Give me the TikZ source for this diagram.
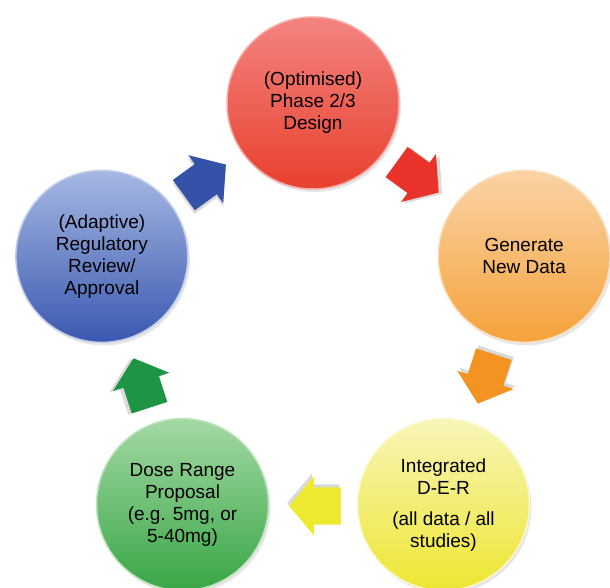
\documentclass[tikz,border=0pt]{standalone}
\usepackage{fontspec}
\setmainfont{Liberation Sans}
\usetikzlibrary{shapes.arrows,shadows}

% ball colours, light top and full bottom
\definecolor{redtop}{HTML}{F38480}
\definecolor{redbot}{HTML}{E8402E}
\definecolor{orangetop}{HTML}{FAD3A6}
\definecolor{orangebot}{HTML}{F5A23A}
\definecolor{yellowtop}{HTML}{F8F5B8}
\definecolor{yellowbot}{HTML}{EDE632}
\definecolor{greentop}{HTML}{A4D9A4}
\definecolor{greenbot}{HTML}{38A646}
\definecolor{bluetop}{HTML}{A6B8E2}
\definecolor{bluebot}{HTML}{3A58B0}

% arrow colours
\definecolor{arrowred}{HTML}{E8322A}
\definecolor{arroworange}{HTML}{F39322}
\definecolor{arrowyellow}{HTML}{EEEA30}
\definecolor{arrowgreen}{HTML}{1E9445}
\definecolor{arrowblue}{HTML}{3452A8}

\begin{document}
\begin{tikzpicture}[x=1pt, y=1pt,
    phase/.style={circle, minimum size=172pt, inner sep=0pt, align=center,
        font=\fontsize{19}{22}\selectfont, line width=1.5pt,
        top color=#1top, bottom color=#1bot, draw=#1top!70!white,
        drop shadow={shadow xshift=2pt, shadow yshift=-3pt, opacity=0.2}},
    turn/.style={single arrow, minimum height=52pt, text height=37pt,
        text depth=0pt, inner sep=0pt, single arrow head extend=11pt,
        single arrow tip angle=100, fill=#1}
]
    % page size, centre of the cycle at the origin
    \useasboundingbox (-313,-263) rectangle (297,325);

    % draw the five stages
    \node[phase=red] (design) at (90:222)
        {(Optimised)\\Phase 2/3\\Design};
    \node[phase=orange] (newdata) at (18:222)
        {Generate\\New Data};
    \node[phase=yellow] (der) at (-54:222)
        {Integrated\\D-E-R\\[9pt](all data / all\\studies)};
    \node[phase=green] (dose) at (-126:222)
        {Dose Range\\Proposal\\(e.g. 5mg, or\\5-40mg)};
    \node[phase=blue] (review) at (162:222)
        {(Adaptive)\\Regulatory\\Review/\\Approval};

    % draw block arrows between stages, clockwise
    % (shadow shift turned back so it always falls down-right)
    \foreach \a/\c/\n in {126/arrowblue/review, 54/arrowred/design,
                          -18/arroworange/newdata, -90/arrowyellow/der,
                          -162/arrowgreen/dose} {
        \pgfmathsetmacro\dir{\a-90}
        \pgfmathsetmacro\sx{2*cos(\dir)-3*sin(\dir)}
        \pgfmathsetmacro\sy{-2*sin(\dir)-3*cos(\dir)}
        \node[turn=\c, rotate=\dir,
              drop shadow={shadow xshift=\sx pt, shadow yshift=\sy pt,
                           opacity=0.3}]
            (from\n) at ([shift={(\dir:-10)}]\a:181) {};
    }
\end{tikzpicture}
\end{document}
